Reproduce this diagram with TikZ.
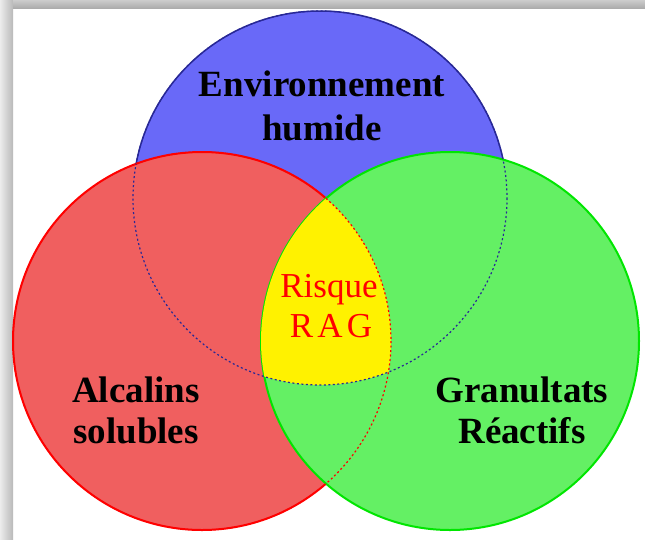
\documentclass[tikz,border=0pt]{standalone}
\usepackage{fontspec}
\setmainfont{Liberation Serif}
\usepackage{tikz}
\definecolor{bluefill}{RGB}{105,105,248}
\definecolor{blueline}{RGB}{40,40,150}
\definecolor{redfill}{RGB}{240,95,95}
\definecolor{greenfill}{RGB}{100,240,100}
\definecolor{greenline}{RGB}{0,230,0}
\tikzset{
  setlabel/.style={font=\fontsize{37}{41}\selectfont\bfseries, align=center, inner sep=0pt},
  risklabel/.style={font=\fontsize{35}{40}\selectfont, text=red, align=center, inner sep=0pt},
  hidden/.style={dash pattern=on 2pt off 2.5pt, line width=1.2pt}
}

\begin{document}
\begin{tikzpicture}[x=1pt,y=-1pt]
\useasboundingbox (0,0) rectangle (645,539);
% background and shadow
\fill[white] (0,0) rectangle (645,539);
\shade[left color=gray!15, right color=gray!55] (0,0) rectangle (13,539);
\shade[top color=gray!40, bottom color=gray!65] (13,0) rectangle (645,8);
% the three sets
\coordinate (bc) at (320,198);
\coordinate (rc) at (202,341);
\coordinate (gc) at (450,341);
\filldraw[fill=bluefill, draw=blueline, line width=1.5pt] (bc) circle (187);
\filldraw[fill=redfill, draw=red, line width=2pt] (rc) circle (189);
\filldraw[fill=greenfill, draw=greenline, line width=2pt] (gc) circle (189);
% common part
\begin{scope}
\clip (bc) circle (187);
\clip (rc) circle (189);
\fill[yellow] (gc) circle (189);
\end{scope}
\draw[hidden, blueline] (bc) circle (187);
\draw[hidden, red] (rc) circle (189);
% labels
\node[setlabel, font=\fontsize{37}{44}\selectfont\bfseries] (humid) at (322,106) {Environnement\\humide};
\node[setlabel] (alkali) at (136,410) {Alcalins\\solubles};
\node[setlabel] (aggregate) at (522,410) {Granultats\\Réactifs};
\node[risklabel] (risk) at (329,306) {Risque\\\addfontfeature{LetterSpace=12}RAG\kern-4pt};
\end{tikzpicture}
\end{document}
